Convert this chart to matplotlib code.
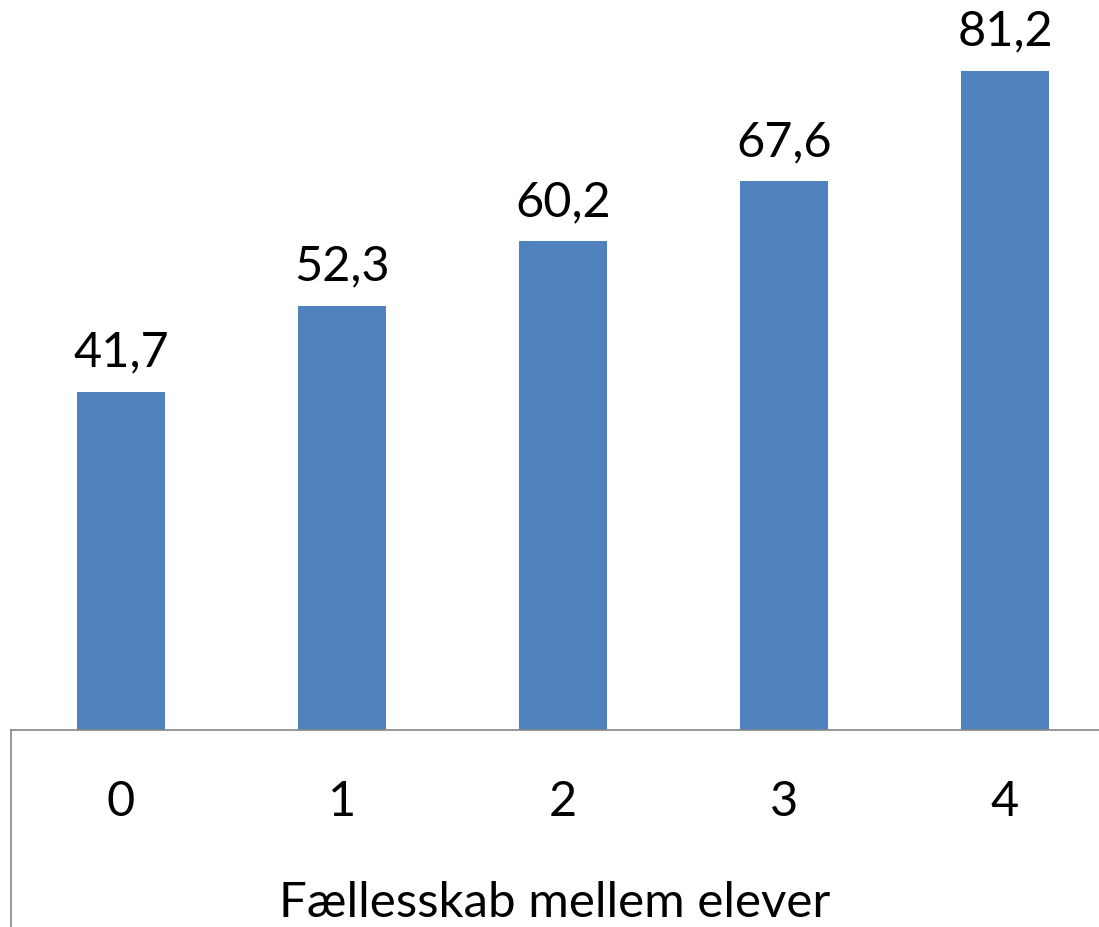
import matplotlib.pyplot as plt
import matplotlib.transforms as mtransforms

# data
categories = ["0", "1", "2", "3", "4"]
values = [41.7, 52.3, 60.2, 67.6, 81.2]
value_labels = ["41,7", "52,3", "60,2", "67,6", "81,2"]
xlabel = "Fællesskab mellem elever"

plt.rcParams['font.family'] = ['Lato', 'DejaVu Sans']

W, H = 1099, 928
fig = plt.figure(figsize=(W / 100, H / 100), dpi=100)
# axes: left edge at category boundary, bottom at the category axis line
left_px, base_px, slot_px = 10.5, 731, 221
ax = fig.add_axes([left_px / W, (H - base_px) / H, (W - left_px) / W, base_px / H])

x = list(range(len(categories)))
ax.bar(x, values, width=0.4, color='#4F81BD')

ax.set_xlim(-0.5, -0.5 + (W - left_px) / slot_px)
ax.set_ylim(0, 90.07)

for xi, v, lab in zip(x, values, value_labels):
    ax.annotate(lab, (xi, v), xytext=(0, 19), textcoords='offset points',
                ha='center', va='baseline', fontsize=35)

for s in ['top', 'right', 'left']:
    ax.spines[s].set_visible(False)
ax.spines['bottom'].set_color('#868686')
ax.spines['bottom'].set_linewidth(1.2)
ax.set_yticks([])
ax.set_xticks(x)
ax.set_xticklabels(categories, fontsize=35)
ax.tick_params(axis='x', length=0, pad=35)

# vertical boundary line at the start of the category axis
trans = mtransforms.blended_transform_factory(ax.transData, ax.transAxes)
ax.plot([-0.5, -0.5], [0, -0.3], transform=trans, color='#868686',
        lw=1.2, clip_on=False)

ax.set_xlabel(xlabel, fontsize=35.5, labelpad=41)

fig.savefig('out.png', dpi=100)
